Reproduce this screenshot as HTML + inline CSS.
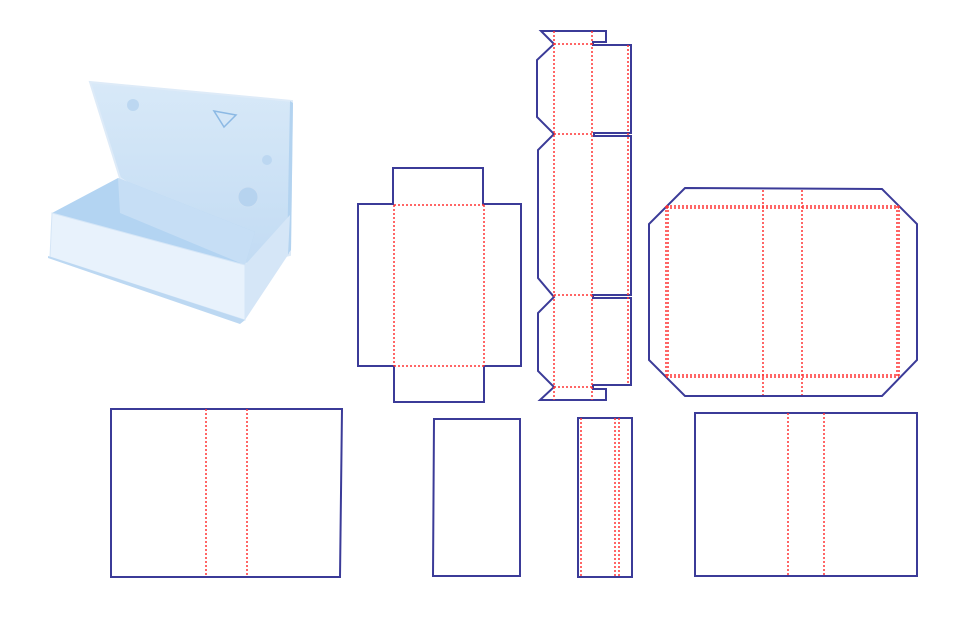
<!DOCTYPE html>
<html><head><meta charset="utf-8"><style>html,body{margin:0;padding:0;background:#fff}svg{display:block}</style></head>
<body>
<svg width="960" height="640" viewBox="0 0 960 640" xmlns="http://www.w3.org/2000/svg">
<defs>
<linearGradient id="lid" x1="0" y1="0" x2="0" y2="1"><stop offset="0" stop-color="#d8e9f8"/><stop offset="1" stop-color="#c2dbf3"/></linearGradient>
</defs>
<g>
<polygon points="90,82 292,101 290,255 248,265 120,178" fill="url(#lid)" stroke="#deebf8" stroke-width="2"/>
<polygon points="290,101 293,103 291,250 287,255" fill="#b3d3f0"/>
<circle cx="133" cy="105" r="6" fill="#bcd7f1"/>
<circle cx="267" cy="160" r="5" fill="#bcd7f1"/>
<circle cx="248" cy="197" r="10" fill="#b6d3ef" stroke="#cde0f3"/>
<polygon points="214,111 236,115 224,127" fill="none" stroke="#8cb9e4" stroke-width="1.5"/>
<polygon points="52,213 118,178 255,232 245,265" fill="#b3d4f2"/>
<polygon points="118,178 120,213 245,265 255,232" fill="#c6def5"/>
<polygon points="52,213 245,265 245,320 50,257" fill="#e8f2fc" stroke="#d5e6f7"/>
<polygon points="245,265 290,215 288,255 245,320" fill="#d5e6f7"/>
<polygon points="48,256 245,320 240,324 48,258" fill="#bcd8f2"/>
</g>
<g fill="none" stroke="#3b3b98" stroke-width="2">
<polygon points="393,168 483,168 483,204 521,204 521,366 484,366 484,402 394,402 394,366 358,366 358,204 393,204"/>
<polygon points="541,31 606,31 606,42 593,42 593,45 631,45 631,133 594,133 594,136 631,136 631,295 593,295 593,298 631,298 631,385 593,385 593,389 606,389 606,400 540,400 554,387 538,371 538,313 554,297 538,278 538,150 554,134 537,117 537,60 554,44"/>
<polygon points="685,188 882,189 917,224 917,360 882,396 685,396 649,360 649,224"/>
<polygon points="111,409 342,409 340,577 111,577"/>
<polygon points="434,419 520,419 520,576 433,576"/>
<rect x="578" y="418" width="54" height="159"/>
<rect x="695" y="413" width="222" height="163"/>
</g>
<g fill="none" stroke="#ff3333" stroke-width="1.5" stroke-dasharray="2,2">
<path d="M394,205H484M394,366H484M394,205V366M484,205V366"/>
<path d="M554,31V400M592,31V400M628,45V385M554,44H592M554,134H592M554,295H592M554,387H592"/>
<path d="M666,206H899M666,208H899M666,375H899M666,377H899M666,206V377M668,206V377M897,206V377M899,206V377M763,190V395M802,190V395"/>
<path d="M206,409V577M247,409V577"/>
<path d="M581,418V577M615,418V577M619,418V577"/>
<path d="M788,413V576M824,413V576"/>
</g>
</svg>
</body></html>
